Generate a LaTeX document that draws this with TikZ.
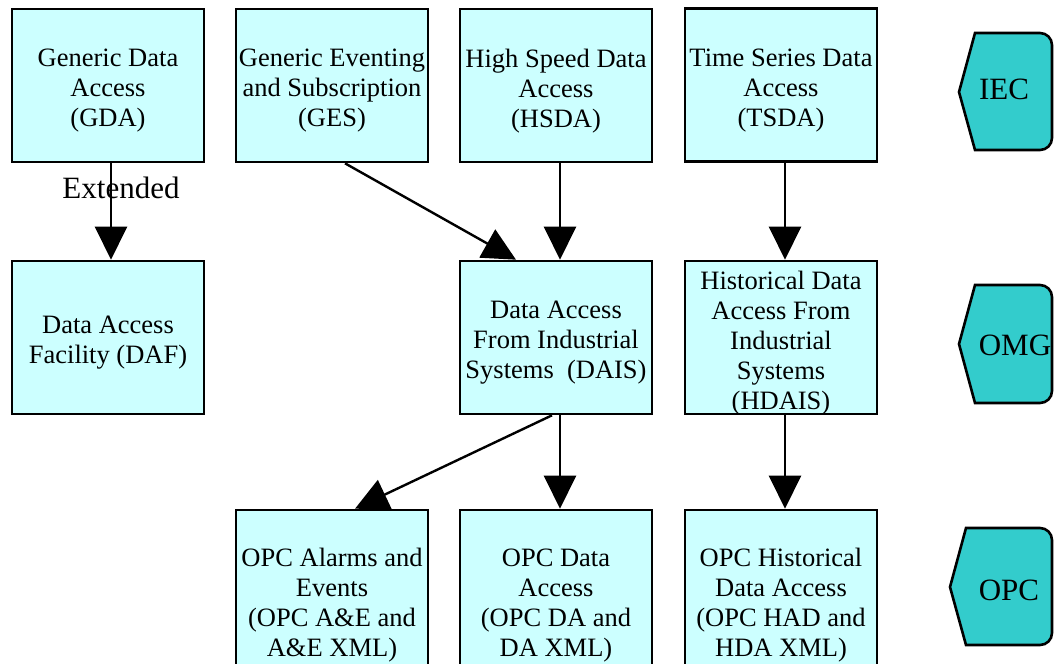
\documentclass[tikz,border=0pt]{standalone}
\usepackage{fontspec}
\setmainfont{Liberation Serif}
\usepackage{tikz}
\usepackage{xcolor}
\usetikzlibrary{arrows.meta}

\definecolor{boxcyan}{HTML}{CCFFFF}
\definecolor{tagteal}{HTML}{33CCCC}

\begin{document}
\begin{tikzpicture}[
  x=1pt, y=-1pt,
  font=\fontsize{26.5}{30}\selectfont,
  boxtext/.style={align=center, inner sep=0pt, yshift=-5.5pt},
  box/.style={draw, fill=boxcyan, line width=2.6pt, inner sep=0pt,
              minimum width=192pt, minimum height=153pt,
              label={[boxtext]center:{#1}}},
  tallbox/.style={box={#1}, minimum height=180pt},
  tag/.style={draw, fill=tagteal, line width=2.6pt},
  tagtext/.style={inner sep=0pt, font=\fontsize{31}{34}\selectfont},
  arr/.style={-{Triangle[length=33pt, width=32pt]}, line width=2.4pt}]

\useasboundingbox (0,0) rectangle (1055,664);

% top row (IEC)
\node[box={Generic Data\\Access\\(GDA)}] (gda) at (108,85.5) {};
\node[box={Generic Eventing\\and Subscription\\(GES)}] (ges) at (332,85.5) {};
\node[box={High Speed Data\\Access\\(HSDA)}] (hsda) at (556,85.5) {};
\node[box={Time Series Data\\Access\\(TSDA)}] (tsda) at (781,85) {};

% middle row (OMG)
\node[box={Data Access\\Facility (DAF)}] (daf) at (108,337.5) {};
\node[box={Data Access\\From Industrial\\Systems~~(DAIS)}] (dais) at (556,337.5) {};
\node[box={Historical Data\\Access From\\Industrial\\Systems\\(HDAIS)}] (hdais) at (781,337.5) {};

% bottom row (OPC)
\node[tallbox={OPC Alarms and\\Events\\(OPC A\&E and\\A\&E XML)}] (opcae) at (332,600) {};
\node[tallbox={OPC Data\\Access\\(OPC DA and\\DA XML)}] (opcda) at (556,600) {};
\node[tallbox={OPC Historical\\Data Access\\(OPC HAD and\\HDA XML)}] (opchda) at (781,600) {};

% organisation tags
\draw[tag] (959,92) -- (975,33) -- (1000,33) [rounded corners=12pt] -- (1052,33)
  -- (1052,150) -- (1000,150) [sharp corners] -- (975,150) -- cycle;
\node[tagtext] (iec) at (1004,89) {IEC};
\draw[tag] (959,344) -- (975,285) -- (1000,285) [rounded corners=12pt] -- (1052,285)
  -- (1052,403) -- (1000,403) [sharp corners] -- (975,403) -- cycle;
\node[tagtext] (omg) at (1015,345) {OMG};
\draw[tag] (950,587) -- (966,528) -- (990,528) [rounded corners=12pt] -- (1052,528)
  -- (1052,645) -- (990,645) [sharp corners] -- (966,645) -- cycle;
\node[tagtext] (opc) at (1009,590) {OPC};

% edges
\draw[arr] ([xshift=3pt]gda.south) -- node[pos=0.26, xshift=10pt, font=\fontsize{31}{34}\selectfont] {Extended} ([xshift=3pt]daf.north);
\draw[arr] ([xshift=13pt]ges.south) -- ([xshift=-40pt]dais.north);
\draw[arr] ([xshift=4pt]hsda.south) -- ([xshift=4pt]dais.north);
\draw[arr] ([xshift=4pt]tsda.south) -- ([xshift=4pt]hdais.north);
\draw[arr] ([xshift=-4pt]dais.south) -- ([xshift=23pt]opcae.north);
\draw[arr] ([xshift=4pt]dais.south) -- ([xshift=4pt]opcda.north);
\draw[arr] ([xshift=4pt]hdais.south) -- ([xshift=4pt]opchda.north);
\end{tikzpicture}
\end{document}
